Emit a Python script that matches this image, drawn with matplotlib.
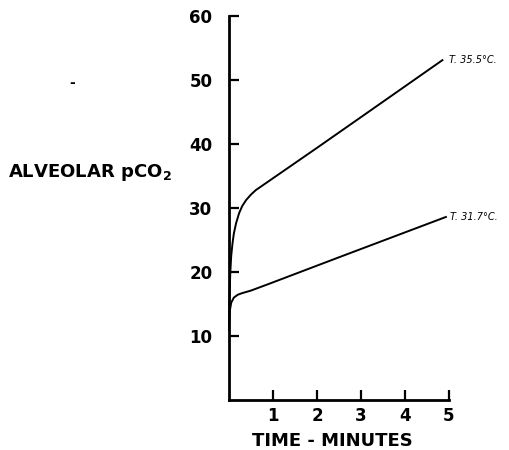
import matplotlib.pyplot as plt

# readings
time_warm = [0, 0.01, 0.03, 0.05, 0.08, 0.11, 0.16, 0.23, 0.3, 0.39, 0.5, 0.61, 0.8, 2.0, 3.0, 4.85]
pco2_warm = [12, 16, 20, 22.5, 24.5, 26, 27.6, 29.2, 30.3, 31.25, 32.1, 32.8, 33.7, 39.4, 44.2, 53.1]
time_cold = [0, 0.01, 0.02, 0.05, 0.11, 0.2, 0.3, 0.5, 0.91, 2.5, 4.93]
pco2_cold = [11, 12.8, 14, 15.2, 16, 16.45, 16.7, 17.1, 18.15, 22.3, 28.6]

labels = ["T. 35.5°C.", "T. 31.7°C."]
xticks = [1, 2, 3, 4, 5]
yticks = [10, 20, 30, 40, 50, 60]

fig = plt.figure(figsize=(5.09, 4.5), dpi=100)
ax = fig.add_axes([229 / 509, 50 / 450, 220 / 509, 384 / 450])

ax.plot(time_warm, pco2_warm, color="black", lw=1.4, clip_on=False)
ax.plot(time_cold, pco2_cold, color="black", lw=1.4, clip_on=False)

ax.text(time_warm[-1] + 0.15, pco2_warm[-1], labels[0], fontsize=7, style="italic",
        va="center", ha="left")
ax.text(time_cold[-1] + 0.1, pco2_cold[-1], labels[1], fontsize=7, style="italic",
        va="center", ha="left")

ax.set_xlim(0, 5)
ax.set_ylim(0, 60)
ax.set_xticks(xticks)
ax.set_yticks(yticks)
ax.tick_params(direction="in", length=7, width=1.6, labelsize=12)
ax.tick_params(axis="y", pad=12)
ax.tick_params(axis="x", pad=5)
for t in ax.get_xticklabels() + ax.get_yticklabels():
    t.set_fontweight("bold")

for s in ["top", "right"]:
    ax.spines[s].set_visible(False)
for s in ["left", "bottom"]:
    ax.spines[s].set_linewidth(2)

fig.text(332 / 509, 1 - 441 / 450, "TIME - MINUTES", fontsize=13, fontweight="bold",
         va="center", ha="center")
fig.text(8 / 509, 1 - 173 / 450, "ALVEOLAR pCO$_\\mathbf{2}$", fontsize=13,
         fontweight="bold", va="center", ha="left")
fig.text(72 / 509, 1 - 83 / 450, "-", fontsize=10, fontweight="bold",
         va="center", ha="center")

fig.savefig("out.png", dpi=100)
